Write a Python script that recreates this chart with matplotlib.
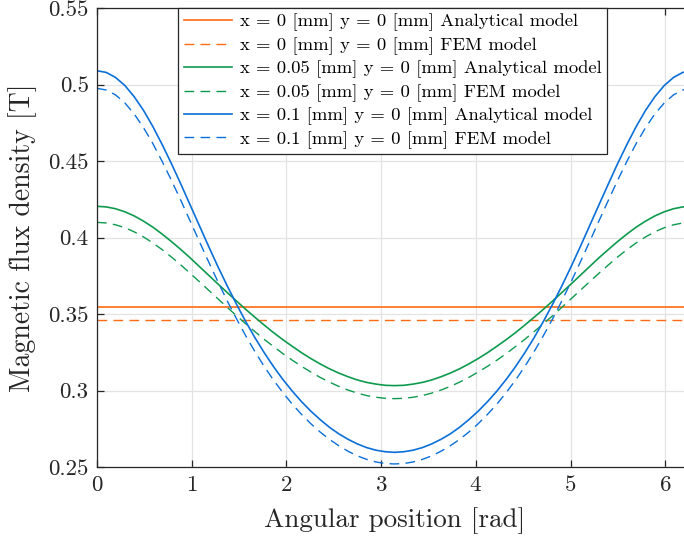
import matplotlib
matplotlib.use("Agg")
import matplotlib.pyplot as plt
from matplotlib.ticker import FuncFormatter

plt.rcParams["font.family"] = "serif"
plt.rcParams["font.serif"] = ["cmr10"]
plt.rcParams["mathtext.fontset"] = "cm"
plt.rcParams["axes.formatter.use_mathtext"] = True

# angular position [rad]
angle = [0.000, 0.098, 0.196, 0.295, 0.393, 0.491, 0.589, 0.687, 0.785, 0.884,
         0.982, 1.080, 1.178, 1.276, 1.374, 1.473, 1.571, 1.669, 1.767, 1.865,
         1.963, 2.062, 2.160, 2.258, 2.356, 2.454, 2.553, 2.651, 2.749, 2.847,
         2.945, 3.043, 3.142, 3.240, 3.338, 3.436, 3.534, 3.632, 3.731, 3.829,
         3.927, 4.025, 4.123, 4.222, 4.320, 4.418, 4.516, 4.614, 4.712, 4.811,
         4.909, 5.007, 5.105, 5.203, 5.301, 5.400, 5.498, 5.596, 5.694, 5.792,
         5.890, 5.989, 6.087, 6.185, 6.283]

# x = 0 mm (centred rotor)
b0_analytic = [0.3548] * len(angle)
b0_fem = [0.3461] * len(angle)

# x = 0.05 mm
b005_analytic = [0.4204, 0.4200, 0.4188, 0.4168, 0.4141, 0.4107, 0.4068, 0.4023,
                 0.3974, 0.3922, 0.3868, 0.3811, 0.3754, 0.3697, 0.3641, 0.3585,
                 0.3530, 0.3478, 0.3427, 0.3378, 0.3332, 0.3289, 0.3247, 0.3209,
                 0.3174, 0.3142, 0.3114, 0.3090, 0.3069, 0.3053, 0.3042, 0.3034,
                 0.3032, 0.3034, 0.3042, 0.3053, 0.3069, 0.3090, 0.3114, 0.3142,
                 0.3174, 0.3209, 0.3247, 0.3289, 0.3332, 0.3378, 0.3427, 0.3478,
                 0.3530, 0.3585, 0.3641, 0.3697, 0.3754, 0.3811, 0.3868, 0.3922,
                 0.3974, 0.4023, 0.4068, 0.4107, 0.4141, 0.4168, 0.4188, 0.4200,
                 0.4204]
b005_fem = [0.4099, 0.4095, 0.4083, 0.4064, 0.4037, 0.4004, 0.3965, 0.3921,
            0.3873, 0.3821, 0.3767, 0.3712, 0.3656, 0.3600, 0.3544, 0.3489,
            0.3436, 0.3384, 0.3334, 0.3287, 0.3241, 0.3198, 0.3158, 0.3121,
            0.3086, 0.3055, 0.3027, 0.3003, 0.2983, 0.2967, 0.2956, 0.2949,
            0.2947, 0.2949, 0.2956, 0.2967, 0.2983, 0.3003, 0.3027, 0.3055,
            0.3086, 0.3121, 0.3158, 0.3198, 0.3241, 0.3287, 0.3334, 0.3384,
            0.3436, 0.3489, 0.3544, 0.3600, 0.3656, 0.3712, 0.3767, 0.3821,
            0.3873, 0.3921, 0.3965, 0.4004, 0.4037, 0.4064, 0.4083, 0.4095,
            0.4099]

# x = 0.1 mm
b01_analytic = [0.5090, 0.5079, 0.5046, 0.4993, 0.4920, 0.4831, 0.4726, 0.4609,
                0.4484, 0.4351, 0.4215, 0.4079, 0.3943, 0.3811, 0.3685, 0.3564,
                0.3450, 0.3344, 0.3246, 0.3155, 0.3072, 0.2996, 0.2927, 0.2865,
                0.2810, 0.2760, 0.2717, 0.2681, 0.2651, 0.2627, 0.2610, 0.2600,
                0.2596, 0.2600, 0.2610, 0.2627, 0.2651, 0.2681, 0.2717, 0.2760,
                0.2810, 0.2865, 0.2927, 0.2996, 0.3072, 0.3155, 0.3246, 0.3344,
                0.3450, 0.3564, 0.3685, 0.3811, 0.3943, 0.4079, 0.4215, 0.4351,
                0.4484, 0.4609, 0.4726, 0.4831, 0.4920, 0.4993, 0.5046, 0.5079,
                0.5090]
b01_fem = [0.4975, 0.4964, 0.4932, 0.4879, 0.4807, 0.4718, 0.4615, 0.4499,
           0.4375, 0.4244, 0.4110, 0.3975, 0.3842, 0.3712, 0.3587, 0.3469,
           0.3357, 0.3253, 0.3156, 0.3067, 0.2986, 0.2911, 0.2844, 0.2783,
           0.2729, 0.2681, 0.2639, 0.2603, 0.2573, 0.2550, 0.2533, 0.2523,
           0.2520, 0.2523, 0.2533, 0.2550, 0.2573, 0.2603, 0.2639, 0.2681,
           0.2729, 0.2783, 0.2844, 0.2911, 0.2986, 0.3067, 0.3156, 0.3253,
           0.3357, 0.3469, 0.3587, 0.3712, 0.3842, 0.3975, 0.4110, 0.4244,
           0.4375, 0.4499, 0.4615, 0.4718, 0.4807, 0.4879, 0.4932, 0.4964,
           0.4975]

c_orange = "#FF6A13"
c_green = "#0E9A4E"
c_blue = "#0B6FD9"

fig = plt.figure(figsize=(6.84, 5.44), dpi=100)
ax = fig.add_axes([0.1418, 0.1415, 0.870, 0.8438])

dash = (0, (7, 4.5))
ax.plot(angle, b0_analytic, color=c_orange, lw=1.2,
        label="x = 0 [mm] y = 0 [mm] Analytical model")
ax.plot(angle, b0_fem, color=c_orange, lw=1.0, linestyle=dash,
        label="x = 0 [mm] y = 0 [mm] FEM model")
ax.plot(angle, b005_analytic, color=c_green, lw=1.2,
        label="x = 0.05 [mm] y = 0 [mm] Analytical model")
ax.plot(angle, b005_fem, color=c_green, lw=1.0, linestyle=dash,
        label="x = 0.05 [mm] y = 0 [mm] FEM model")
ax.plot(angle, b01_analytic, color=c_blue, lw=1.2,
        label="x = 0.1 [mm] y = 0 [mm] Analytical model")
ax.plot(angle, b01_fem, color=c_blue, lw=1.0, linestyle=dash,
        label="x = 0.1 [mm] y = 0 [mm] FEM model")

ax.set_xlim(0, 6.2832)
ax.set_ylim(0.25, 0.55)
ax.set_xticks([0, 1, 2, 3, 4, 5, 6])
ax.set_yticks([0.25, 0.3, 0.35, 0.4, 0.45, 0.5, 0.55])
ax.yaxis.set_major_formatter(FuncFormatter(lambda v, p: "%g" % v))
ax.grid(True, color="#e3e3e3", lw=0.9)
ax.set_axisbelow(True)
ax.tick_params(direction="in", length=5, width=0.9, labelsize=16.5,
               colors="#262626", top=True, right=True, pad=6)
for s in ax.spines.values():
    s.set_color("#262626")
    s.set_linewidth(0.9)

ax.set_xlabel("Angular position [rad]", fontsize=19.5, color="#262626")
ax.set_ylabel("Magnetic flux density [T]", fontsize=20, color="#262626")
ax.xaxis.set_label_coords(0.5, -0.087)
ax.yaxis.set_label_coords(-0.1, 0.5)

leg = ax.legend(loc="upper center", bbox_to_anchor=(0.497, 1.0), fontsize=13.4,
                fancybox=False, framealpha=1, edgecolor="#262626",
                borderaxespad=0, handlelength=2.6, handletextpad=0.4,
                labelspacing=0.3, borderpad=0.3)
leg.get_frame().set_linewidth(0.9)

fig.savefig("out.png", dpi=100)
